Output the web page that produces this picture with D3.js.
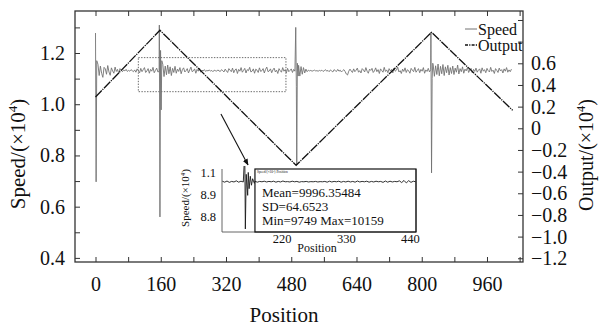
<!DOCTYPE html>
<html>
<head>
<meta charset="utf-8">
<script src="https://cdn.jsdelivr.net/npm/d3@7"></script>
<style>
body { margin: 0; background: #fff; }
svg { display: block; }
text { font-family: "Liberation Serif", "Times New Roman", serif; fill: #111; }
</style>
</head>
<body>
<svg id="chart" width="599" height="327"></svg>
<script>
// ---- data ----
var xTickVals = [0, 160, 320, 480, 640, 800, 960];
var xMinorVals = [0, 80, 160, 240, 320, 400, 480, 560, 640, 720, 800, 880, 960, 1040];
var leftTickVals = [0.4, 0.6, 0.8, 1.0, 1.2];
var leftMinorVals = [0.4, 0.5, 0.6, 0.7, 0.8, 0.9, 1.0, 1.1, 1.2, 1.3];
var rightTickVals = [0.6, 0.4, 0.2, 0, -0.2, -0.4, -0.6, -0.8, -1.0, -1.2];
var rightMinorVals = [1.0, 0.8, 0.6, 0.4, 0.2, 0, -0.2, -0.4, -0.6, -0.8, -1.0, -1.2];

// speed (x10^4), sampled every 3 positions from 6 to 1020
var speedStart = 6, speedStep = 3;
var speedBase = [
  1.156, 1.112, 1.149, 1.121, 1.105, 1.144, 1.138, 1.117, 1.151, 1.126,
  1.113, 1.142, 1.130, 1.121, 1.145, 1.128, 1.136, 1.119, 1.139, 1.133,
  1.127, 1.134, 1.130, 1.136, 1.128, 1.132, 1.129, 1.135, 1.131, 1.127,
  1.134, 1.125, 1.138, 1.131, 1.122, 1.140, 1.127, 1.135, 1.143, 1.124,
  1.130, 1.139, 1.121, 1.136, 1.129, 1.144, 1.123, 1.132, 1.141, 1.126,
  1.128, null, null, 1.156, 1.108, 1.149, 1.115, 1.153, 1.119, 1.146,
  1.112, 1.140, 1.124, 1.148, 1.121, 1.137, 1.128, 1.143, 1.119, 1.135,
  1.142, 1.126, 1.131, 1.139, 1.122, 1.134, 1.145, 1.127, 1.130, 1.138,
  1.121, 1.136, 1.129, 1.141, 1.125, 1.133, 1.130, 1.135, 1.128, 1.132,
  1.130, 1.134, 1.129, 1.132, 1.127, 1.133, 1.131, 1.129, 1.134, 1.130,
  1.128, 1.135, 1.131, 1.126, 1.137, 1.130, 1.124, 1.139, 1.133, 1.127,
  1.141, 1.123, 1.134, 1.138, 1.120, 1.136, 1.129, 1.143, 1.125, 1.132,
  1.140, 1.122, 1.135, 1.131, 1.144, 1.126, 1.129, 1.138, 1.121, 1.137,
  1.133, 1.124, 1.142, 1.128, 1.131, 1.139, 1.122, 1.136, 1.145, 1.127,
  1.130, 1.138, 1.123, 1.134, 1.141, 1.126, 1.133, 1.120, 1.139, 1.131,
  1.125, 1.143, 1.129, 1.135, 1.122, 1.140, 1.127, 1.132, 1.138, 1.124,
  1.136, 1.129, null, null, 1.152, 1.110, 1.147, 1.117, 1.143, 1.122,
  1.137, 1.127, 1.133, 1.130, 1.132, 1.129, 1.131, 1.133, 1.130, 1.131,
  1.129, 1.132, 1.130, 1.133, 1.128, 1.131, 1.135, 1.129, 1.132, 1.127,
  1.134, 1.130, 1.126, 1.135, 1.131, 1.128, 1.136, 1.129, 1.133, 1.126,
  1.131, 1.135, 1.128, 1.118, 1.114, 1.129, 1.137, 1.130, 1.124, 1.138,
  1.127, 1.133, 1.141, 1.125, 1.131, 1.122, 1.139, 1.134, 1.126, 1.143,
  1.129, 1.121, 1.137, 1.132, 1.140, 1.124, 1.130, 1.142, 1.127, 1.135,
  1.120, 1.138, 1.131, 1.125, 1.144, 1.128, 1.134, 1.123, 1.139, 1.130,
  1.136, 1.122, 1.141, 1.129, 1.133, 1.145, 1.126, 1.131, 1.120, 1.137,
  1.128, 1.142, 1.124, 1.135, 1.130, 1.121, 1.140, 1.133, 1.127, 1.144,
  1.125, 1.132, 1.139, 1.123, 1.136, 1.129, 1.143, 1.121, 1.134, 1.128,
  1.140, 1.126, 1.135, null, 1.154, 1.109, 1.150, 1.116, 1.157, 1.111,
  1.148, 1.119, 1.155, 1.112, 1.146, 1.123, 1.152, 1.114, 1.143, 1.120,
  1.149, 1.116, 1.141, 1.125, 1.153, 1.118, 1.139, 1.127, 1.146, 1.121,
  1.137, 1.130, 1.143, 1.124, 1.134, 1.140, 1.122, 1.136, 1.128, 1.141,
  1.125, 1.133, 1.138, 1.121, 1.142, 1.129, 1.135, 1.123, 1.140, 1.131,
  1.126, 1.144, 1.128, 1.133, 1.120, 1.139, 1.132, 1.124, 1.141, 1.130,
  1.135, 1.122, 1.138, 1.129, 1.143, 1.125, 1.134, 1.127, 1.137
];
// sharp disturbances [position, speed]
var speedSpikes = [
  [0, 1.278], [1.5, 0.697], [3, 1.17],
  [156.5, 1.309], [158, 0.56], [159.5, 1.21], [161, 0.978], [162.5, 1.17],
  [491, 1.30], [492.5, 1.07], [493.5, 0.763], [495, 1.16], [497, 1.11],
  [822.5, 1.282], [824, 0.732], [825.5, 1.10], [827, 1.16]
];

// output (x10^4)
var outputPos = [0, 158, 492, 824, 1023];
var outputVal = [0.289, 0.905, -0.342, 0.886, 0.166];

// zoomed window and arrow (main chart units)
var zoomWindowPos = [105, 467];
var zoomWindowSpeed = [1.049, 1.182];
var arrowFrom = [307.6, 0.962];
var arrowTo = [374, 0.763];

// inset: speed (x10^4) sampled every 4 positions from 118 to 450
var insetStart = 118, insetStep = 4;
var insetBase = [
  0.9999, 0.9994, 1.0000, 0.9993, 0.9998, 0.9995, 1.0001, 0.9994, 0.9999,
  0.9995, null, null, null, null,
  0.9999, 0.9994, 0.9998, 0.9996, 0.9999, 0.9995, 0.9998, 0.9996, 0.9999, 0.9994,
  0.9998, 0.9995, 1.0000, 0.9996, 0.9997, 0.9995, 0.9999, 0.9996, 0.9998, 0.9994,
  0.9997, 0.9996, 0.9998, 0.9995, 0.9997, 0.9996, 0.9998, 0.9995, 0.9997, 0.9996,
  0.9998, 0.9994, 0.9999, 0.9995, 0.9998, 0.9996, 0.9999, 0.9994, 0.9998, 0.9995,
  0.9999, 0.9995, 0.9998, 0.9994, 1.0000, 0.9995, 0.9998, 0.9996, 0.9999, 0.9994,
  0.9998, 0.9995, 0.9999, 0.9996, 0.9998, 0.9993, 1.0000, 0.9994, 0.9999, 0.9995,
  0.9998, 0.9996, 1.0001, 0.9992, 1.0003, 0.9990, 1.0002, 0.9993, 0.9999, 0.9996
];
var insetSpikes = [
  [156.5, 1.0159], [157.5, 0.9749], [159, 1.0035], [161.5, 0.9925], [162.5, 1.0045],
  [164, 0.9960], [166, 1.0025], [168, 0.9978], [170, 1.0012], [173, 0.9988]
];
var insetXTicks = [220, 330, 440];
var insetYTicks = [1.0047, 0.9932, 0.9812];
var insetYLabels = ["1.1", "8.9", "8.8"];
var statBoxPos = [174, 450.6];
var statLines = ["Mean=9996.35484", "SD=64.6523", "Min=9749 Max=10159"];

// ---- layout ----
var svg = d3.select("#chart");
var L = 75, R = 523, T = 11, B = 262;

var x = d3.scaleLinear().domain([-50.3, 1048.3]).range([L, R]);
var yL = d3.scaleLinear().domain([0.384, 1.364]).range([B, T]);
var yR = d3.scaleLinear().domain([-1.2345, 1.083]).range([B, T]);

var defs = svg.append("defs");
defs.append("clipPath").attr("id", "plotclip")
  .append("rect").attr("x", L).attr("y", T).attr("width", R - L).attr("height", B - T);

// zoom window (dotted)
svg.append("rect")
  .attr("x", x(zoomWindowPos[0])).attr("y", yL(zoomWindowSpeed[1]))
  .attr("width", x(zoomWindowPos[1]) - x(zoomWindowPos[0]))
  .attr("height", yL(zoomWindowSpeed[0]) - yL(zoomWindowSpeed[1]))
  .attr("fill", "none").attr("stroke", "#444").attr("stroke-width", 0.8)
  .attr("stroke-dasharray", "1.4,1.4");

// speed line
var speedPts = speedBase.map(function(v, i) { return [speedStart + i * speedStep, v]; })
  .filter(function(d) { return d[1] !== null; })
  .concat(speedSpikes)
  .sort(function(a, b) { return a[0] - b[0]; });

var plot = svg.append("g").attr("clip-path", "url(#plotclip)");

plot.append("path")
  .datum(speedPts)
  .attr("fill", "none").attr("stroke", "#737373").attr("stroke-width", 0.9)
  .attr("d", d3.line().x(function(d) { return x(d[0]); }).y(function(d) { return yL(d[1]); }));

// output line
var outPts = outputPos.map(function(p, i) { return [p, outputVal[i]]; });
plot.append("path")
  .datum(outPts)
  .attr("fill", "none").attr("stroke", "#111").attr("stroke-width", 1.3)
  .attr("stroke-dasharray", "9,1,1.2,1")
  .attr("d", d3.line().x(function(d) { return x(d[0]); }).y(function(d) { return yR(d[1]); }));

// ---- axes ----
function styleAxis(g) {
  g.select(".domain").remove();
  g.selectAll(".tick line").attr("stroke", "#333").attr("stroke-width", 1);
}
var fmt1 = d3.format(".1f");
function rfmt(v) { return v === 0 ? "0" : fmt1(v); }

svg.append("g").attr("transform", "translate(0," + B + ")")
  .call(d3.axisBottom(x).tickValues(xMinorVals).tickSize(-5).tickFormat(""))
  .call(styleAxis);
svg.append("g").attr("transform", "translate(0," + B + ")")
  .call(d3.axisBottom(x).tickValues(xTickVals).tickSize(0).tickPadding(15))
  .call(styleAxis)
  .selectAll("text").attr("font-size", 20).style("font-family", "Liberation Serif");
svg.append("g").attr("transform", "translate(0," + T + ")")
  .call(d3.axisTop(x).tickValues(xMinorVals).tickSize(-5).tickFormat(""))
  .call(styleAxis);

svg.append("g").attr("transform", "translate(" + L + ",0)")
  .call(d3.axisLeft(yL).tickValues(leftMinorVals).tickSize(-5).tickFormat(""))
  .call(styleAxis);
svg.append("g").attr("transform", "translate(" + L + ",0)")
  .call(d3.axisLeft(yL).tickValues(leftTickVals).tickSize(0).tickPadding(10).tickFormat(fmt1))
  .call(styleAxis)
  .selectAll("text").attr("font-size", 20).style("font-family", "Liberation Serif");

svg.append("g").attr("transform", "translate(" + R + ",0)")
  .call(d3.axisRight(yR).tickValues(rightMinorVals).tickSize(-5).tickFormat(""))
  .call(styleAxis);
svg.append("g").attr("transform", "translate(" + R + ",0)")
  .call(d3.axisRight(yR).tickValues(rightTickVals).tickSize(0).tickPadding(8).tickFormat(rfmt))
  .call(styleAxis)
  .selectAll("text").attr("font-size", 20).style("font-family", "Liberation Serif");

// frame
svg.append("rect").attr("x", L).attr("y", T).attr("width", R - L).attr("height", B - T)
  .attr("fill", "none").attr("stroke", "#333").attr("stroke-width", 1.3);

// titles
function unitTitle(g, label, size) {
  var t = g.append("text").attr("text-anchor", "middle").attr("font-size", size);
  t.append("tspan").text(label + "/(\u00d710");
  t.append("tspan").attr("dy", -size * 0.38).attr("font-size", size * 0.62).text("4");
  t.append("tspan").attr("dy", size * 0.38).text(")");
  return t;
}
unitTitle(svg.append("g").attr("transform", "translate(25,154) rotate(-90)"), "Speed", 21);
unitTitle(svg.append("g").attr("transform", "translate(593,155) rotate(-90)"), "Output", 20);
svg.append("text").attr("x", 284).attr("y", 322).attr("text-anchor", "middle")
  .attr("font-size", 21).text("Position");

// legend
var leg = svg.append("g");
leg.append("line").attr("x1", 465).attr("x2", 477).attr("y1", 29).attr("y2", 29)
  .attr("stroke", "#737373").attr("stroke-width", 1);
leg.append("text").attr("x", 478).attr("y", 34.5).attr("font-size", 16).text("Speed");
leg.append("line").attr("x1", 465).attr("x2", 477).attr("y1", 45).attr("y2", 45)
  .attr("stroke", "#111").attr("stroke-width", 1.3).attr("stroke-dasharray", "3,1.2,1.2,1.2");
leg.append("text").attr("x", 478).attr("y", 50.5).attr("font-size", 16).text("Output");

// arrow
defs.append("marker").attr("id", "arrowhead")
  .attr("viewBox", "0 0 10 10").attr("refX", 9).attr("refY", 5)
  .attr("markerWidth", 6).attr("markerHeight", 6).attr("orient", "auto")
  .append("path").attr("d", "M0,1 L10,5 L0,9 Z").attr("fill", "#111");
svg.append("line")
  .attr("x1", x(arrowFrom[0])).attr("y1", yL(arrowFrom[1]))
  .attr("x2", x(arrowTo[0])).attr("y2", yL(arrowTo[1]))
  .attr("stroke", "#111").attr("stroke-width", 1.1).attr("marker-end", "url(#arrowhead)");

// ---- inset ----
var iL = 222, iR = 416, iT = 169, iB = 232;
var ix = d3.scaleLinear().domain([117.4, 450.6]).range([iL, iR]);
var iy = d3.scaleLinear().domain([0.9733, 1.0063]).range([iB, iT]);
var inset = svg.append("g");

inset.append("rect").attr("x", iL).attr("y", iT - 2).attr("width", iR - iL).attr("height", iB - iT + 2)
  .attr("fill", "#fff");
defs.append("clipPath").attr("id", "insetclip")
  .append("rect").attr("x", iL).attr("y", iT - 3).attr("width", iR - iL).attr("height", iB - iT + 3);

inset.append("path")
  .attr("d", "M" + iL + "," + iT + "V" + iB + "H" + iR + "V" + iT)
  .attr("fill", "none").attr("stroke", "#555").attr("stroke-width", 0.9);

// stats box
inset.append("rect").attr("x", ix(statBoxPos[0])).attr("y", iT)
  .attr("width", ix(statBoxPos[1]) - ix(statBoxPos[0])).attr("height", iB - iT)
  .attr("fill", "none").attr("stroke", "#111").attr("stroke-width", 1.2);
inset.append("text").attr("x", ix(statBoxPos[0]) + 2).attr("y", iT + 3.5)
  .attr("font-size", 3.5).attr("fill", "#333").text("Speed/(\u00d710\u2074) Position");
inset.selectAll("text.stat").data(statLines).enter().append("text")
  .attr("class", "stat")
  .attr("x", ix(statBoxPos[0]) + 7)
  .attr("y", function(d, i) { return 196.5 + i * 14.3; })
  .attr("font-size", 13).text(function(d) { return d; });

var insetPts = insetBase.map(function(v, i) { return [insetStart + i * insetStep, v]; })
  .filter(function(d) { return d[1] !== null; })
  .concat(insetSpikes)
  .sort(function(a, b) { return a[0] - b[0]; });
inset.append("g").attr("clip-path", "url(#insetclip)")
  .append("path").datum(insetPts)
  .attr("fill", "none").attr("stroke", "#1a1a1a").attr("stroke-width", 0.9)
  .attr("d", d3.line().x(function(d) { return ix(d[0]); }).y(function(d) { return iy(d[1]); }));

inset.append("g").attr("transform", "translate(0," + iB + ")")
  .call(d3.axisBottom(ix).tickValues(insetXTicks).tickSize(0).tickPadding(2))
  .call(styleAxis)
  .selectAll("text").attr("font-size", 12.5).style("font-family", "Liberation Serif");
inset.append("g").attr("transform", "translate(" + iL + ",0)")
  .call(d3.axisLeft(iy).tickValues(insetYTicks).tickSize(0).tickPadding(6)
    .tickFormat(function(d, i) { return insetYLabels[i]; }))
  .call(styleAxis)
  .selectAll("text").attr("font-size", 12.5).style("font-family", "Liberation Serif");
inset.append("text").attr("x", 317).attr("y", 252).attr("text-anchor", "middle")
  .attr("font-size", 12).text("Position");
unitTitle(inset.append("g").attr("transform", "translate(189,198) rotate(-90)"), "Speed", 11);
</script>
</body>
</html>
